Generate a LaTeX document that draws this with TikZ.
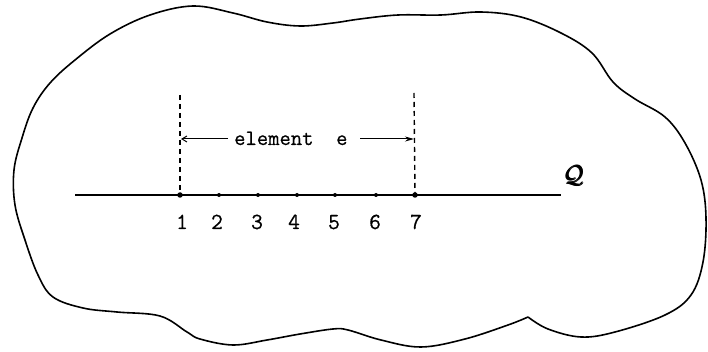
\documentclass[tikz,border=0pt]{standalone}
\usepackage{amsmath}
\usepackage{fontspec}
\setmonofont[FakeBold=0.6]{Latin Modern Mono}
\usetikzlibrary{arrows.meta}
\begin{document}
\begin{tikzpicture}[x=1pt,y=-1pt,
  blob/.style={line width=1.6pt,line join=round},
  axis/.style={line width=1.2pt},
  dot/.style={circle,fill=black,inner sep=0pt,minimum size=4pt},
  bigdot/.style={circle,fill=black,inner sep=0pt,minimum size=5.5pt},
  dashline/.style={line width=1.4pt,dash pattern=on 5pt off 4pt},
  lbl/.style={font=\fontsize{23}{26}\selectfont\ttfamily,anchor=base,inner sep=0pt},
  dimarrow/.style={line width=1pt}
]
\useasboundingbox (0,0) rectangle (708,352);
% region outline (starts and ends at the cusp on the lower right)
\draw[blob] plot[smooth,tension=0.6] coordinates {
 (528,317) (548,329) (581,337) (615,332) (665,315) (691,295) (703,262)
 (706,218) (701,180) (685,143) (665,117) (635,99) (613,82) (592,53) (561,33)
 (521,17) (481,12) (441,15) (398,15) (360,19) (333,23) (300,26) (267,22)
 (233,13) (193,6) (150,15) (110,34) (75,60) (50,83) (33,108) (22,138)
 (14,170) (15,205) (25,240) (38,275) (53,297) (83,308) (117,312) (160,316)
 (187,332) (200,339) (233,345) (267,340) (300,334) (333,329) (348,330)
 (381,340) (421,347) (465,339) (508,325) (528,317)};
% axis
\coordinate (L) at (75,195);
\coordinate (R) at (561,195);
\draw[axis] (L) -- (R);
\foreach \i/\x in {1/180,7/415} {
  \node[bigdot] (p\i) at (\x,195) {};
}
\foreach \i/\x in {2/219,3/258,4/297,5/335,6/376} {
  \node[dot] (p\i) at (\x,195) {};
}
\foreach \i/\x in {1/182,2/217,3/257,4/294,5/334,6/375,7/416} {
  \node[lbl] (n\i) at (\x,229) {\i};
}
% dashed element boundaries
\coordinate (t1) at (180,95);
\coordinate (t7) at (414,93);
\draw[dashline] (t1) -- (p1.center);
\draw[dashline] (t7) -- (p7.center);
% element label with arrows
\node[font=\fontsize{22}{25}\selectfont\ttfamily,anchor=base west,inner sep=0pt] (el) at (234,145) {element\ \ e};
\coordinate (a1) at (181,139);
\coordinate (a7) at (414,139);
\draw[dimarrow,-{Straight Barb[length=5pt,width=6pt]}] (228,139) -- (a1);
\draw[dimarrow,-{Stealth[length=9pt,width=5pt]}] (360,139) -- (a7);
% region name
\node[font=\fontsize{26}{28}\selectfont,inner sep=0pt] (Q) at (574,176) {$\pmb{\mathcal{Q}}$};
\end{tikzpicture}
\end{document}
